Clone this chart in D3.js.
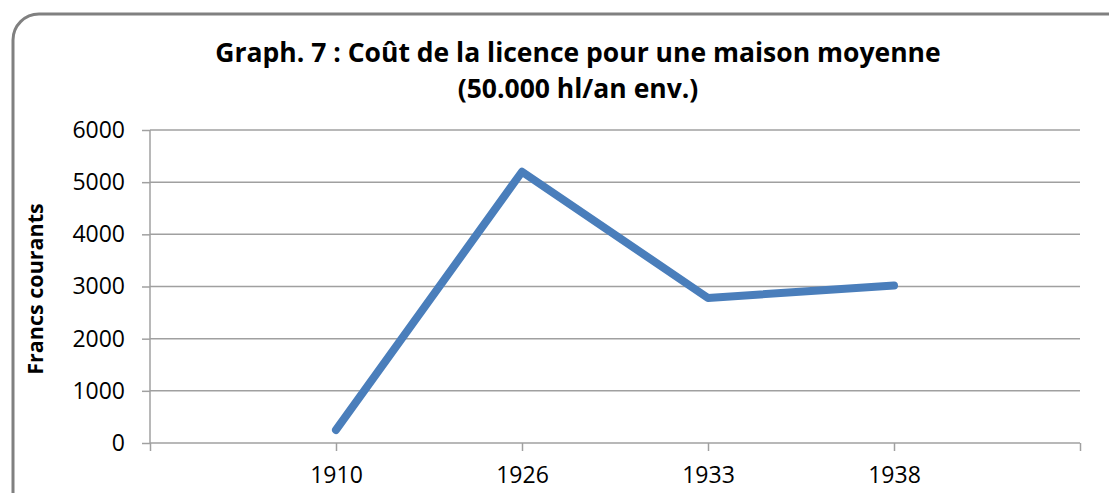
<!DOCTYPE html>
<html><head><meta charset="utf-8">
<script src="https://cdn.jsdelivr.net/npm/d3@7"></script>
<style>body{margin:0;background:#fff}svg{display:block}</style>
</head><body>
<script>
const categories = ["", "1910", "1926", "1933", "1938", ""];
const values = [null, 250, 5200, 2780, 3020, null];
const yTicks = [0, 1000, 2000, 3000, 4000, 5000, 6000];
const titleLines = ["Graph. 7 : Coût de la licence pour une maison moyenne", "(50.000 hl/an env.)"];
const yTitle = "Francs courants";

const W = 1109, H = 493;
const svg = d3.select("body").append("svg").attr("width", W).attr("height", H);
const font = "'Open Sans', sans-serif";

svg.append("rect").attr("x", 13).attr("y", 14).attr("width", 1120).attr("height", 520)
  .attr("rx", 26).attr("ry", 26).attr("fill", "#fff").attr("stroke", "#808080").attr("stroke-width", 3);

const m = {left: 150, right: 1080, top: 130, bottom: 443};
const x = d3.scalePoint().domain(d3.range(categories.length)).range([m.left, m.right]);
const y = d3.scaleLinear().domain([0, 6000]).range([m.bottom, m.top]);

// gridlines
svg.append("g").selectAll("line").data(yTicks.filter(d => d > 0)).join("line")
  .attr("x1", m.left).attr("x2", m.right).attr("y1", d => y(d)).attr("y2", d => y(d))
  .attr("stroke", "#a0a0a0").attr("stroke-width", 1.5);

// y axis
const ya = svg.append("g").attr("transform", `translate(${m.left},0)`)
  .call(d3.axisLeft(y).tickValues(yTicks).tickSize(8).tickPadding(17).tickFormat(d3.format("d")));
ya.select(".domain").attr("stroke", "#a0a0a0").attr("stroke-width", 1.5).attr("d", `M0,${m.top}V${m.bottom}`);
ya.selectAll(".tick line").attr("stroke", "#a0a0a0").attr("stroke-width", 1.5);
ya.selectAll("text").attr("font-family", font).attr("font-size", 23).attr("fill", "#000");

// x axis
const xa = svg.append("g").attr("transform", `translate(0,${m.bottom})`)
  .call(d3.axisBottom(x).tickSize(8).tickPadding(16).tickFormat(i => categories[i]));
xa.select(".domain").attr("stroke", "#a0a0a0").attr("stroke-width", 1.5).attr("d", `M${m.left},0H${m.right}`);
xa.selectAll(".tick line").attr("stroke", "#a0a0a0").attr("stroke-width", 1.5);
xa.selectAll("text").attr("font-family", font).attr("font-size", 23).attr("fill", "#000");

// line
const line = d3.line().defined(d => d != null).x((d, i) => x(i)).y(d => y(d));
svg.append("path").datum(values).attr("d", line).attr("fill", "none")
  .attr("stroke", "#4a7ebb").attr("stroke-width", 8).attr("stroke-linejoin", "round").attr("stroke-linecap", "round");

// title
svg.append("text").attr("x", 578).attr("text-anchor", "middle")
  .attr("font-family", font).attr("font-weight", "bold").attr("font-size", 26.5).attr("fill", "#000")
  .selectAll("tspan").data(titleLines).join("tspan")
  .attr("x", 578).attr("y", (d, i) => 62 + i * 36).text(d => d);

// y title
svg.append("text").attr("transform", "translate(43,289) rotate(-90)").attr("text-anchor", "middle")
  .attr("font-family", font).attr("font-weight", "bold").attr("font-size", 21.5).attr("fill", "#000").text(yTitle);
</script>
</body></html>
